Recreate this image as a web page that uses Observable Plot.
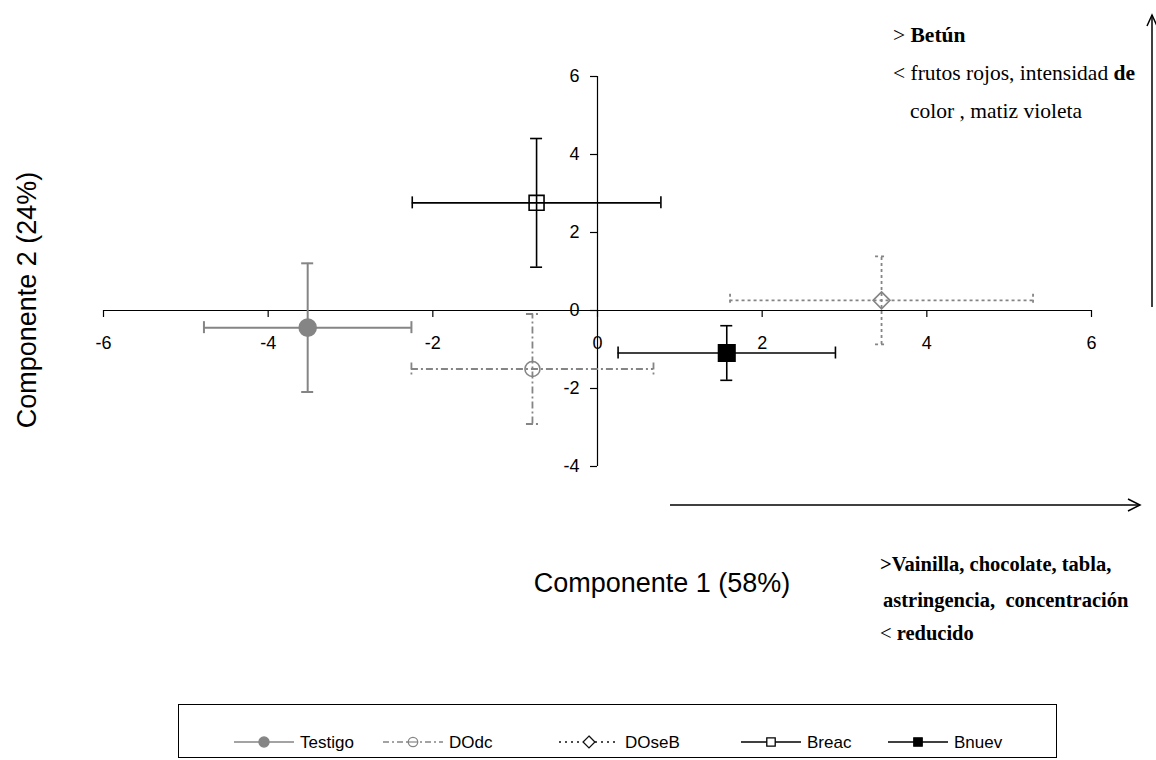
<!DOCTYPE html>
<html><head><meta charset="utf-8">
<script src="https://cdn.jsdelivr.net/npm/d3@7"></script>
<script src="https://cdn.jsdelivr.net/npm/@observablehq/plot@0.6"></script>
<style>
body{margin:0;background:#fff;}
#wrap{position:relative;width:1156px;height:760px;overflow:hidden;}
#wrap svg{position:absolute;left:0;top:0;}
</style></head><body><div id="wrap"></div>
<script>
// ---- data ----
const treatments = ["Testigo", "DOdc", "DOseB", "Breac", "Bnuev"];
const comp1 = [-3.52, -0.79, 3.45, -0.74, 1.57];   // Componente 1 (mean)
const comp2 = [-0.44, -1.50, 0.26, 2.76, -1.09];   // Componente 2 (mean)
const err1  = [1.26, 1.47, 1.84, 1.51, 1.32];      // error on Componente 1
const err2  = [1.65, 1.41, 1.13, 1.65, 0.70];      // error on Componente 2
const xTicks = [-6, -4, -2, 0, 2, 4, 6];
const yTicks = [-4, -2, 0, 2, 4, 6];
const xTitle = "Componente 1 (58%)";
const yTitle = "Componente 2 (24%)";

const rows = treatments.map((name, i) => ({name, c1: comp1[i], c2: comp2[i], e1: err1[i], e2: err2[i]}));

const GRAY = "#858585";
const styles = {
  Testigo: {stroke: GRAY, dash: null, symbol: "circle", fill: GRAY, r: 8.5, sw: 2},
  DOdc:    {stroke: GRAY, dash: "7,3,2,3", symbol: "circle", fill: "none", r: 7.5, sw: 1.8},
  DOseB:   {stroke: GRAY, dash: "3,3", symbol: "diamond2", fill: "none", r: 7.6, sw: 1.8},
  Breac:   {stroke: "#000", dash: null, symbol: "square2", fill: "none", r: 9.5, sw: 1.6},
  Bnuev:   {stroke: "#000", dash: null, symbol: "square2", fill: "#000", r: 10.5, sw: 1.6}
};

const marks = [
  Plot.ruleY([0], {x1: -6, x2: 6, stroke: "#000", strokeWidth: 1.2}),
  Plot.ruleX([0], {y1: -4, y2: 6, stroke: "#000", strokeWidth: 1.2}),
  Plot.ruleX(xTicks, {x: d => d, y1: d => 0, y2: d => 0, insetBottom: -7, stroke: "#000", strokeWidth: 1.2}),
  Plot.ruleY(yTicks, {y: d => d, x1: d => 0, x2: d => 0, insetLeft: -7, stroke: "#000", strokeWidth: 1.2}),
  Plot.text(xTicks, {x: d => d, y: d => 0, dy: 33, text: d => String(d), fontSize: 18, fill: "#000"}),
  Plot.text(yTicks, {x: d => 0, y: d => d, dx: -18, textAnchor: "end", text: d => String(d), fontSize: 18, fill: "#000"})
];

for (const row of rows) {
  const s = styles[row.name];
  const data = [row];
  const common = {stroke: s.stroke, strokeWidth: s.sw, strokeDasharray: s.dash || undefined};
  marks.push(
    Plot.ruleY(data, {y: "c2", x1: d => d.c1 - d.e1, x2: d => d.c1 + d.e1, ...common}),
    Plot.ruleX(data, {x: "c1", y1: d => d.c2 - d.e2, y2: d => d.c2 + d.e2, ...common}),
    Plot.ruleX(data, {x: d => d.c1 - d.e1, y1: "c2", y2: "c2", insetTop: -6, insetBottom: -6, ...common}),
    Plot.ruleX(data, {x: d => d.c1 + d.e1, y1: "c2", y2: "c2", insetTop: -6, insetBottom: -6, ...common}),
    Plot.ruleY(data, {y: d => d.c2 - d.e2, x1: "c1", x2: "c1", insetLeft: -6, insetRight: -6, ...common}),
    Plot.ruleY(data, {y: d => d.c2 + d.e2, x1: "c1", x2: "c1", insetLeft: -6, insetRight: -6, ...common}),
    Plot.dot(data, {x: "c1", y: "c2", symbol: () => s.symbol, r: s.r, fill: s.fill, stroke: s.stroke, strokeWidth: 1.6})
  );
}

const chart = Plot.plot({
  width: 1156,
  height: 700,
  marginLeft: 103,
  marginRight: 65,
  marginTop: 76,
  marginBottom: 234,
  x: {domain: [-6, 6], axis: null},
  y: {domain: [-4, 6], axis: null},
  symbol: {type: "identity"},
  style: {fontFamily: "'Liberation Sans', Arial, sans-serif", fontSize: "18px", background: "transparent", overflow: "visible"},
  marks
});
const wrap = document.getElementById("wrap");
wrap.appendChild(chart);

// ---- overlay: titles, annotations, arrows, legend ----
const ov = d3.select(wrap).append("svg").attr("width", 1156).attr("height", 760)
  .style("font-family", "'Liberation Sans', Arial, sans-serif");

ov.append("text").attr("x", 662).attr("y", 592).attr("text-anchor", "middle")
  .attr("font-size", 27).text(xTitle);
ov.append("text").attr("transform", "translate(36,300) rotate(-90)").attr("text-anchor", "middle")
  .attr("font-size", 27).text(yTitle);

const serif = "'Liberation Serif', 'Times New Roman', serif";
function rich(x, y, size, parts) {
  const t = ov.append("text").attr("x", x).attr("y", y).attr("font-family", serif)
    .attr("font-size", size).attr("xml:space", "preserve").style("white-space", "pre");
  for (const [txt, bold] of parts) t.append("tspan").attr("font-weight", bold ? "bold" : "normal").text(txt);
}
rich(893, 42, 21.5, [["> ", false], ["Betún", true]]);
rich(893, 80, 21.5, [["< frutos rojos, intensidad ", false], ["de", true]]);
rich(910, 118, 21.5, [["color , matiz violeta", false]]);
rich(880, 571, 20.5, [[">Vainilla, chocolate, tabla,", true]]);
rich(883, 607, 20.5, [["astringencia,  concentración", true]]);
rich(880, 640, 20.5, [["< ", false], ["reducido", true]]);

// arrows
ov.append("line").attr("x1", 670).attr("y1", 505).attr("x2", 1140).attr("y2", 505).attr("stroke", "#000").attr("stroke-width", 1.5);
ov.append("path").attr("d", "M1128,499L1140,505L1128,511").attr("fill", "none").attr("stroke", "#000").attr("stroke-width", 1.5);
ov.append("line").attr("x1", 1152).attr("y1", 307).attr("x2", 1152).attr("y2", 15).attr("stroke", "#000").attr("stroke-width", 1.5);
ov.append("path").attr("d", "M1147,26L1152,15L1157,26").attr("fill", "none").attr("stroke", "#000").attr("stroke-width", 1.5);

// legend
ov.append("rect").attr("x", 178.5).attr("y", 704.5).attr("width", 878).attr("height", 53)
  .attr("fill", "none").attr("stroke", "#000").attr("stroke-width", 1);
const legendPos = {Testigo: 234, DOdc: 383, DOseB: 559, Breac: 741, Bnuev: 888};
const legendStyle = {
  Testigo: {stroke: GRAY, dash: null, sym: d3.symbolCircle, size: 80, fill: GRAY},
  DOdc: {stroke: GRAY, dash: "6,3,2,3", sym: d3.symbolCircle, size: 70, fill: "none", bar: true},
  DOseB: {stroke: "#111", dash: "2,4", sym: d3.symbolDiamond2, size: 90, fill: "none"},
  Breac: {stroke: "#000", dash: null, sym: d3.symbolSquare2, size: 90, fill: "#fff"},
  Bnuev: {stroke: "#000", dash: null, sym: d3.symbolSquare2, size: 90, fill: "#000"}
};
const ly = 742;
for (const name of treatments) {
  const x0 = legendPos[name], st = legendStyle[name];
  const ln = ov.append("line").attr("x1", x0).attr("x2", x0 + 60).attr("y1", ly).attr("y2", ly)
    .attr("stroke", st.stroke).attr("stroke-width", 1.5);
  if (st.dash) ln.attr("stroke-dasharray", st.dash);
  ov.append("path").attr("d", d3.symbol(st.sym, st.size)()).attr("transform", `translate(${x0 + 30},${ly})`)
    .attr("fill", st.fill === "none" ? "#fff" : st.fill).attr("stroke", st.stroke).attr("stroke-width", 1.3);
  if (st.bar) ov.append("line").attr("x1", x0 + 25).attr("x2", x0 + 35).attr("y1", ly).attr("y2", ly).attr("stroke", st.stroke).attr("stroke-width", 1.2);
  ov.append("text").attr("x", x0 + 66).attr("y", ly + 6).attr("font-size", 17).text(name);
}
</script></body></html>
